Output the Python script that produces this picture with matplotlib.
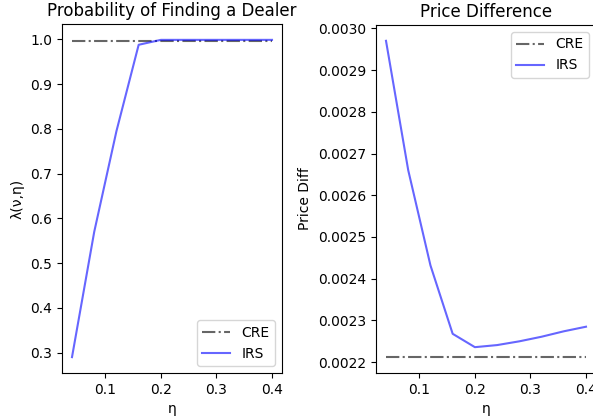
import numpy as np
import matplotlib
matplotlib.use("Agg")
import matplotlib.pyplot as plt

# eta grid
eta = [0.04, 0.08, 0.12, 0.16, 0.20, 0.24, 0.28, 0.32, 0.36, 0.40]

# probability of finding a dealer
lam_cre = [0.997] * len(eta)
lam_irs = [0.29, 0.57, 0.795, 0.988, 0.999, 0.999, 0.999, 0.999, 0.999, 0.999]

# price difference
diff_cre = [0.002212] * len(eta)
diff_irs = [0.00297, 0.00266, 0.002432, 0.002268, 0.002236, 0.002241,
            0.00225, 0.002261, 0.002274, 0.002285]

fig = plt.figure(figsize=(5.93, 4.16), dpi=100)
ax1 = fig.add_axes([62/593, 1-373/416, 220/593, 349/416])
ax2 = fig.add_axes([376/593, 1-373/416, 220/593, 348/416])

ax1.plot(eta, lam_cre, '-.', color='black', alpha=0.6, label='CRE')
ax1.plot(eta, lam_irs, color='blue', alpha=0.6, label='IRS')
ax1.set_title('Probability of Finding a Dealer')
ax1.set_xlabel('η')
ax1.set_ylabel('λ(ν,η)')
ax1.legend(loc='lower right')

ax2.plot(eta, diff_cre, '-.', color='black', alpha=0.6, label='CRE')
ax2.plot(eta, diff_irs, color='blue', alpha=0.6, label='IRS')
ax2.set_title('Price Difference')
ax2.set_xlabel('η')
ax2.set_ylabel('Price Diff')
ax2.legend(loc='upper right')

fig.savefig('out.png', dpi=100)
